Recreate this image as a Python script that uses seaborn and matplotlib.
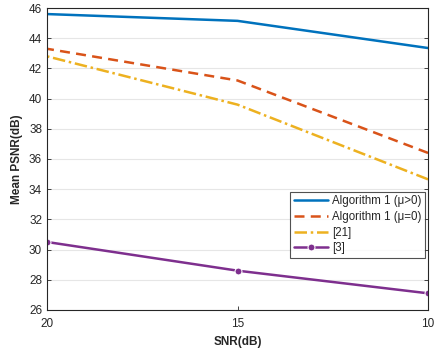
import matplotlib
matplotlib.use("Agg")
import matplotlib.pyplot as plt
import seaborn as sns
import pandas as pd

snr = [20, 15, 10]
alg1_pos = [45.6, 45.15, 43.35]
alg1_zero = [43.3, 41.2, 36.4]
ref21 = [42.8, 39.6, 34.65]
ref3 = [30.5, 28.6, 27.1]
labels = ["Algorithm 1 (\u03bc>0)", "Algorithm 1 (\u03bc=0)", "[21]", "[3]"]

rows = []
for lab, vals in zip(labels, [alg1_pos, alg1_zero, ref21, ref3]):
    for s, v in zip(snr, vals):
        rows.append({"SNR": s, "PSNR": v, "method": lab})
df = pd.DataFrame(rows)

sns.set_theme(style="white")
plt.rcParams['font.family'] = ['Liberation Sans', 'DejaVu Sans']

fig = plt.figure(figsize=(4.35, 3.49), dpi=100)
ax = fig.add_axes([0.108, 0.112, 0.876, 0.865])

colors = ["#0072BD", "#D95319", "#EDB120", "#7E2F8E"]
styles = ["-", (0, (4, 2.5)), (0, (5, 1.5, 1, 1.5)), "-"]
markers = [None, None, None, "o"]
for lab, c, ls, m in zip(labels, colors, styles, markers):
    sub = df[df["method"] == lab]
    sns.lineplot(data=sub, x="SNR", y="PSNR", ax=ax, color=c, linestyle=ls,
                 marker=m, markersize=5, linewidth=1.8, label=lab)

ax.set_xlim(20, 10)
ax.set_ylim(26, 46)
ax.set_xticks([20, 15, 10])
ax.set_yticks(range(26, 47, 2))
ax.yaxis.grid(True, color="#e6e6e6", linewidth=0.8)
ax.xaxis.grid(False)
for sp in ax.spines.values():
    sp.set_visible(True)
    sp.set_color("#262626")
    sp.set_linewidth(0.8)
ax.tick_params(axis="both", direction="in", labelsize=8.5, colors="#262626",
               length=3, width=0.6, right=True, top=False, left=True, bottom=True)
ax.tick_params(axis="x", pad=6)
ax.set_xlabel("SNR(dB)", fontsize=8.5, fontweight="bold", labelpad=4)
ax.set_ylabel("Mean PSNR(dB)", fontsize=8.5, fontweight="bold", labelpad=4)

leg = ax.legend(loc="lower right", bbox_to_anchor=(0.998, 0.165), fontsize=8.3,
                frameon=True, fancybox=False, edgecolor="#262626",
                handlelength=3.0, borderpad=0.3, labelspacing=0.32,
                handletextpad=0.35, borderaxespad=0.2)
leg.get_frame().set_linewidth(0.8)

fig.savefig("out.png", dpi=100)
